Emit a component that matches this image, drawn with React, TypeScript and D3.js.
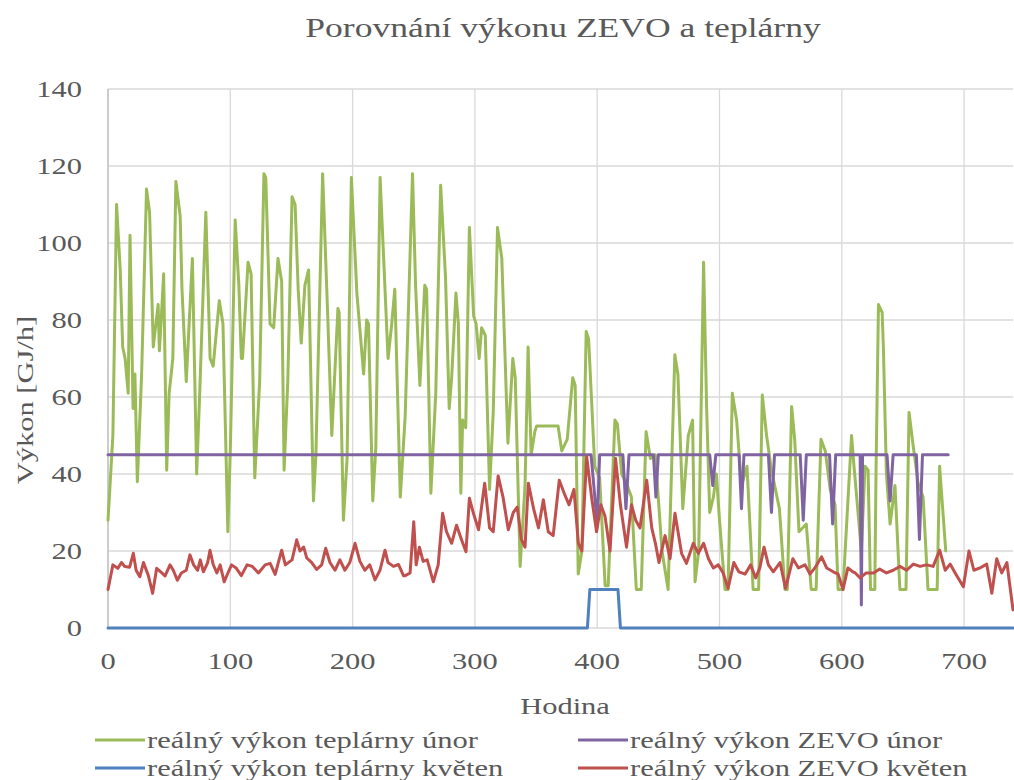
import React from "react";
import * as d3 from "d3";

// hodnoty: [hodina, výkon GJ/h]
const teplarnaUnor: [number, number][] = [
  [0, 28], [4, 50], [7, 110], [10, 93], [12, 73], [14, 70], [16.5, 61], [18, 102], [20.5, 57], [22, 66],
  [24, 38], [27.5, 66], [31.5, 114], [34, 108], [37, 73], [41, 84], [42, 72], [43.5, 80], [45.5, 92], [48, 41],
  [50, 61], [53, 70], [55.5, 116], [59, 107], [60.5, 88], [64, 64], [69, 96], [72.5, 40], [75, 61], [80, 108],
  [83.5, 70], [86, 68], [91, 85], [94, 79], [98, 25], [100, 46], [104, 106], [107, 89], [109, 70], [110, 70],
  [114.5, 95], [117, 92], [120, 39], [124, 64], [127.5, 118], [129, 117], [132.5, 79], [135.5, 78], [139, 96], [142, 90],
  [144, 41], [147, 64], [150.5, 112], [153, 110], [155.5, 88], [158, 74], [161, 89], [164, 93], [168, 33], [170, 45],
  [175.5, 118], [179, 87], [183, 50], [188, 83], [189, 82], [192.5, 28], [195.5, 44], [199, 117], [203.5, 87], [209, 66],
  [211.5, 80], [213, 79], [216.5, 33], [219, 47], [222.5, 117], [226.5, 88], [229, 70], [232, 79], [234.5, 88], [239, 34],
  [243, 55], [249, 118], [251.5, 89], [255, 63], [259, 89], [260.5, 88], [264, 35], [268, 61], [272, 115], [276, 91],
  [279, 57], [281, 65], [284.5, 87], [286.5, 79], [288.5, 35], [290, 54], [292.5, 52], [295.5, 104], [299, 81], [301, 79],
  [303.5, 70], [305.5, 78], [308.5, 76], [312, 36], [315, 56], [318.5, 104], [322, 96], [327, 48], [331, 70], [333, 65],
  [337, 16], [341, 37], [343.5, 73], [346, 45], [349, 51], [350.5, 52.5], [368, 52.5], [371, 46], [375.5, 49], [380, 65],
  [382, 63], [384.5, 14], [387.5, 20], [391, 77], [393, 75], [398, 42], [402, 39], [406.5, 11], [409, 11], [414.5, 54],
  [416.5, 53], [420, 40], [424, 37.5], [428, 34], [432, 10], [436, 10], [440, 51], [443.5, 44], [447.5, 45], [453, 20],
  [458, 10], [463.5, 71], [466, 66], [470, 31], [474.5, 50], [478, 54], [480, 12], [483, 20], [487, 95], [489.5, 57],
  [492, 30], [495, 34], [497.5, 40], [500, 28], [504.5, 10], [507, 10], [510.5, 61], [514, 54], [518, 37], [522.5, 42],
  [527.5, 10], [532, 10], [535, 60.5], [538.5, 50], [542.5, 41], [549, 31], [553.5, 10], [555.5, 10], [559, 57.5], [561.5, 49],
  [565, 25], [571, 27], [575, 10], [579, 10], [583, 49], [586.5, 46], [590.5, 36], [594.5, 32], [597, 10], [601, 10],
  [608, 50], [610, 42], [613, 31], [616, 20], [619, 42], [621.5, 41], [623.5, 10], [627, 10], [628, 41], [630, 84],
  [633, 82], [634, 73], [636.5, 40], [639.5, 27], [643.5, 37], [647.5, 10], [652.5, 10], [655, 56], [658.5, 47], [662.5, 37.5],
  [666.5, 34], [670.5, 10], [678, 10], [680, 42], [685, 20],
];

const zevoUnor: [number, number][] = [
  [0, 45], [395, 45], [400, 27], [402, 45], [421, 45], [423.5, 31], [426, 45], [446, 45], [448, 34], [450, 45],
  [492, 45], [494.5, 37], [497, 45], [516, 45], [518, 31], [520, 45], [540, 45], [542.5, 30], [545, 45], [566, 45],
  [568.5, 28], [571, 45], [590, 45], [592.5, 27], [595, 45], [615, 45], [616, 6], [617, 45], [637, 45], [639.5, 33],
  [642, 45], [661, 45], [663.5, 23], [666, 45], [687, 45],
];

const teplarnaKveten: [number, number][] = [
  [0, 0], [392, 0], [394, 10], [417, 10], [419, 0], [740, 0],
];

const zevoKveten: [number, number][] = [
  [0, 10], [4, 16.4], [8, 15.5], [11, 17], [13.7, 16], [17.7, 15.8], [20.7, 19.4], [23, 15], [26, 13.3], [29, 17],
  [33, 13.6], [36.5, 9], [39.8, 15.5], [44, 14.3], [46.6, 13.5], [50.7, 16.4], [53.4, 15], [56.7, 12.4], [60, 14.3], [64, 15],
  [67, 19], [70, 16.4], [73.3, 15], [75.5, 17.7], [78, 14.6], [81.5, 17], [83.4, 20.2], [86, 16.5], [89, 14.3], [91.7, 16.4],
  [95, 12], [97, 13.5], [101, 16.4], [105, 15.5], [109, 13.6], [113.7, 16.4], [118, 16], [123, 14.3], [128.5, 16.4], [132.6, 16.8],
  [136.7, 13.9], [142, 20.2], [145, 16.4], [150.5, 17.7], [154.3, 22.9], [157, 20], [160, 21], [162.5, 18.2], [166.6, 17], [170.6, 15.2],
  [174.7, 16.4], [178, 20.7], [181.5, 17], [185.6, 15], [189.6, 17.7], [193.7, 15], [197.7, 17], [202, 22], [206, 17.3], [210, 15],
  [214, 16.4], [218.3, 12.5], [222.4, 15], [226.5, 20.2], [229, 17], [233.4, 16], [237.5, 16.5], [241.6, 13.6], [243, 13.6], [247, 14.3],
  [250, 27.6], [252, 16.4], [254.6, 21], [257.7, 17.3], [261, 17.7], [266, 12], [270, 16.4], [273.6, 29.8], [276.8, 25], [281, 22],
  [285, 26.7], [289, 23], [292.7, 19.8], [295.5, 33.7], [298.8, 29.8], [303, 25.5], [308, 37.6], [312, 26], [315, 25], [319, 39.5],
  [323, 34], [327.3, 25.5], [331.4, 30], [334.6, 31.4], [338, 23], [341, 21], [343.7, 37.6], [348, 31], [352, 26], [356, 33.3],
  [360, 25], [364, 24], [369, 38.4], [373, 35], [377, 32], [381, 36], [384.6, 22], [387.4, 20], [391.4, 44.5], [395.4, 34],
  [399.5, 25], [403, 32], [406.4, 29], [410.5, 20], [415, 44], [419, 32], [424, 21], [428, 32], [431.5, 28], [435, 26],
  [440.5, 38.4], [444.6, 26], [447.6, 22], [450.5, 17], [455.5, 24], [459.6, 18], [463.6, 29.8], [469, 19.4], [473, 16.8], [478.6, 22],
  [482.7, 19.4], [487, 22], [491, 18], [495, 15.6], [499, 16.4], [503, 14.3], [507, 10.3], [511.7, 17], [515.8, 14.6], [521, 14],
  [525.5, 16.4], [529.6, 13], [533, 15.6], [536.4, 21], [540, 16.4], [544, 14.6], [549.5, 17], [554, 10.3], [560, 18], [564.6, 15.6],
  [570, 16.4], [574, 14], [578, 15.6], [583.5, 18.5], [587.6, 15.6], [593, 14.6], [597, 14], [601, 10], [605, 15.6], [609, 14.6],
  [611, 14.3], [615, 13], [620, 14.3], [626, 14.3], [631, 15.3], [636.6, 14.3], [642, 15], [647.6, 16], [653, 15], [658.5, 16.6],
  [664, 16], [669.3, 16.4], [674.7, 16], [680, 20.2], [684.6, 15], [688.6, 16.6], [692.7, 14.3], [699.4, 10.7], [704, 20], [708, 15],
  [713, 15.6], [718.5, 16.6], [722.7, 9], [726.7, 18], [730.8, 14.3], [735, 17], [740, 4.7],
];

const xTicks = [0, 100, 200, 300, 400, 500, 600, 700];
const yTicks = [0, 20, 40, 60, 80, 100, 120, 140];

const series = [
  { name: "reálný výkon teplárny únor", data: teplarnaUnor, color: "#9bbb59" },
  { name: "reálný výkon ZEVO únor", data: zevoUnor, color: "#8064a2" },
  { name: "reálný výkon teplárny květen", data: teplarnaKveten, color: "#4f81bd" },
  { name: "reálný výkon ZEVO květen", data: zevoKveten, color: "#c0504d" },
];

const W = 1014;
const H = 780;
const margin = { top: 89, right: 1, bottom: 152, left: 108 };
const font = "'Liberation Serif', 'Times New Roman', serif";
const sx = 1.27; // text v originále je vodorovně roztažený

export default function App() {
  const x = d3.scaleLinear().domain([0, 740]).range([margin.left, W - margin.right]);
  const y = d3.scaleLinear().domain([0, 140]).range([H - margin.bottom, margin.top]);

  const line = d3.line<[number, number]>()
    .x(d => x(d[0]))
    .y(d => y(d[1]));

  const txt = (tx: number, ty: number, s: string, size: number, anchor: string, rot = 0) => (
    <text
      transform={`translate(${tx},${ty}) rotate(${rot}) scale(${sx},1)`}
      fontFamily={font}
      fontSize={size}
      textAnchor={anchor}
      fill="#595959"
    >{s}</text>
  );

  return (
    <svg width={W} height={H} style={{ position: "absolute", left: 0, top: 0, background: "#fff" }}>
      {txt(563, 37, "Porovnání výkonu ZEVO a teplárny", 28, "middle")}

      {yTicks.map(t => (
        <line key={"gy" + t} x1={x(0)} x2={x(740)} y1={y(t)} y2={y(t)} stroke="#d9d9d9" strokeWidth={1.3} />
      ))}
      {xTicks.map(t => (
        <line key={"gx" + t} x1={x(t)} x2={x(t)} y1={y(0)} y2={y(140)} stroke="#d9d9d9" strokeWidth={1.3} />
      ))}
      <line x1={x(0)} x2={x(0)} y1={y(0)} y2={y(140)} stroke="#bfbfbf" strokeWidth={1.3} />

      {yTicks.map(t => (
        <g key={"ly" + t}>{txt(82, y(t) + 8, String(t), 24, "end")}</g>
      ))}
      {xTicks.map(t => (
        <g key={"lx" + t}>{txt(x(t), y(0) + 41, String(t), 24, "middle")}</g>
      ))}

      {series.map(s => (
        <path key={s.name} d={line(s.data) || ""} fill="none" stroke={s.color} strokeWidth={3}
          strokeLinejoin="round" strokeLinecap="round" />
      ))}

      {txt(565, 714, "Hodina", 24, "middle")}
      {txt(33, 400, "Výkon  [GJ/h]", 24, "middle", -90)}

      {series.map((s, i) => {
        const lx = i % 2 === 0 ? 95 : 578;
        const ly = i < 2 ? 740 : 768;
        return (
          <g key={"lg" + i}>
            <line x1={lx} x2={lx + 50} y1={ly} y2={ly} stroke={s.color} strokeWidth={3} />
            {txt(lx + 52, ly + 8, s.name, 24, "start")}
          </g>
        );
      })}
    </svg>
  );
}
